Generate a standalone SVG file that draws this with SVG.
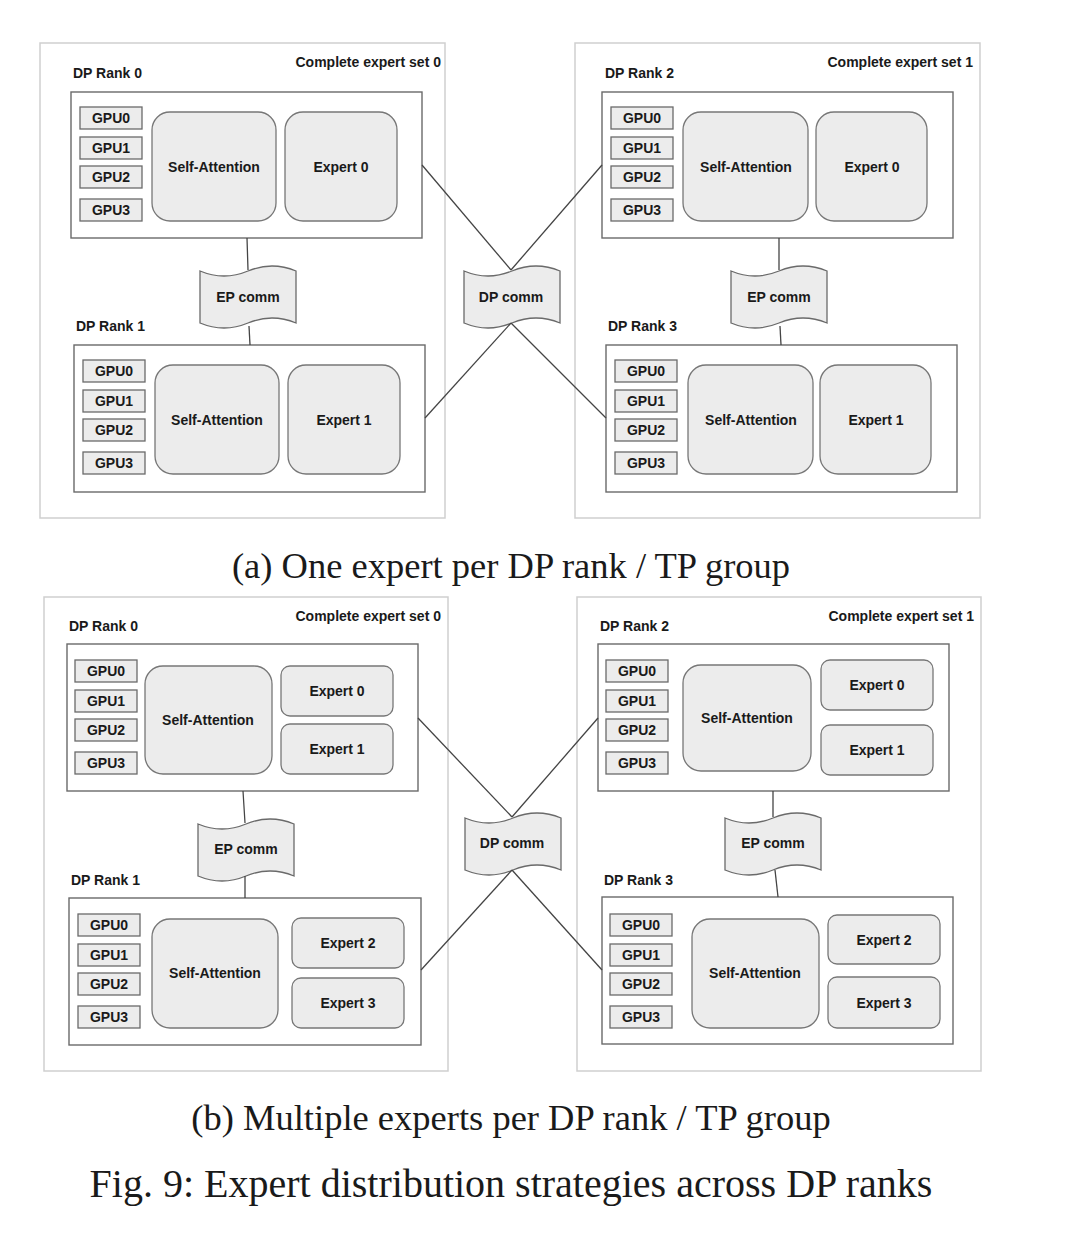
<svg xmlns="http://www.w3.org/2000/svg" xmlns:xlink="http://www.w3.org/1999/xlink" width="1080" height="1239" viewBox="0 0 1080 1239">
<style>
.panel{fill:#fff;stroke:#cfcfcf;stroke-width:1.5}
.rank{fill:#fff;stroke:#6a6a6a;stroke-width:1.4}
.gpu{fill:#ececec;stroke:#6a6a6a;stroke-width:1.3}
.blk{fill:#ececec;stroke:#777;stroke-width:1.3}
.tape{fill:#ececec;stroke:#6a6a6a;stroke-width:1.3}
.lbl{font-family:"Liberation Sans",Arial,sans-serif;font-weight:bold;font-size:14px;fill:#1a1a1a}
.c{text-anchor:middle;dominant-baseline:central}
.r{text-anchor:end}
.cap{font-family:"Liberation Serif","Times New Roman",serif;fill:#1a1a1a;text-anchor:middle}
.con line{stroke:#444;stroke-width:1.3}
</style>
<defs>
<path id="tape" d="M0 6 Q24 16 48 6 Q72 -4 96 6 L96 58 Q72 48 48 58 Q24 68 0 58 Z"/>
<g id="gpus">
<rect class="gpu" x="0" y="0" width="62" height="22"/>
<rect class="gpu" x="0" y="30" width="62" height="22"/>
<rect class="gpu" x="0" y="59" width="62" height="22"/>
<rect class="gpu" x="0" y="92" width="62" height="22"/>
<text class="lbl c" x="31" y="11">GPU0</text>
<text class="lbl c" x="31" y="41">GPU1</text>
<text class="lbl c" x="31" y="70">GPU2</text>
<text class="lbl c" x="31" y="103">GPU3</text>
</g>
</defs>
<rect width="1080" height="1239" fill="#fff"/>

<!-- Panel (a) -->
<g id="a-set0">
<rect class="panel" x="40" y="43" width="405" height="475"/>
<text class="lbl r" x="441" y="67">Complete expert set 0</text>
</g>
<g id="a-set1">
<rect class="panel" x="575" y="43" width="405" height="475"/>
<text class="lbl r" x="973" y="67">Complete expert set 1</text>
</g>

<g id="a-rank0">
<text class="lbl" x="73" y="78">DP Rank 0</text>
<rect class="rank" x="71" y="92" width="351" height="146"/>
<use xlink:href="#gpus" x="80" y="107"/>
<rect class="blk" x="152" y="112" width="124" height="109" rx="18"/>
<text class="lbl c" x="214" y="167">Self-Attention</text>
<rect class="blk" x="285" y="112" width="112" height="109" rx="18"/>
<text class="lbl c" x="341" y="167">Expert 0</text>
</g>
<g id="a-rank1">
<text class="lbl" x="76" y="331">DP Rank 1</text>
<rect class="rank" x="74" y="345" width="351" height="147"/>
<use xlink:href="#gpus" x="83" y="360"/>
<rect class="blk" x="155" y="365" width="124" height="109" rx="18"/>
<text class="lbl c" x="217" y="420">Self-Attention</text>
<rect class="blk" x="288" y="365" width="112" height="109" rx="18"/>
<text class="lbl c" x="344" y="420">Expert 1</text>
</g>
<g id="a-rank2">
<text class="lbl" x="605" y="78">DP Rank 2</text>
<rect class="rank" x="602" y="92" width="351" height="146"/>
<use xlink:href="#gpus" x="611" y="107"/>
<rect class="blk" x="683" y="112" width="125" height="109" rx="18"/>
<text class="lbl c" x="746" y="167">Self-Attention</text>
<rect class="blk" x="816" y="112" width="111" height="109" rx="18"/>
<text class="lbl c" x="872" y="167">Expert 0</text>
</g>
<g id="a-rank3">
<text class="lbl" x="608" y="331">DP Rank 3</text>
<rect class="rank" x="606" y="345" width="351" height="147"/>
<use xlink:href="#gpus" x="615" y="360"/>
<rect class="blk" x="688" y="365" width="125" height="109" rx="18"/>
<text class="lbl c" x="751" y="420">Self-Attention</text>
<rect class="blk" x="820" y="365" width="111" height="109" rx="18"/>
<text class="lbl c" x="876" y="420">Expert 1</text>
</g>

<g id="a-ep0">
<use xlink:href="#tape" class="tape" x="200" y="265"/>
<text class="lbl c" x="248" y="297">EP comm</text>
</g>
<g id="a-dp">
<use xlink:href="#tape" class="tape" x="464" y="265"/>
<text class="lbl c" x="511" y="297">DP comm</text>
</g>
<g id="a-ep1">
<use xlink:href="#tape" class="tape" x="731" y="265"/>
<text class="lbl c" x="779" y="297">EP comm</text>
</g>

<!-- Panel (b) -->
<g id="b-set0">
<rect class="panel" x="44" y="597" width="404" height="474"/>
<text class="lbl r" x="441" y="621">Complete expert set 0</text>
</g>
<g id="b-set1">
<rect class="panel" x="577" y="597" width="404" height="474"/>
<text class="lbl r" x="974" y="621">Complete expert set 1</text>
</g>

<g id="b-rank0">
<text class="lbl" x="69" y="631">DP Rank 0</text>
<rect class="rank" x="67" y="644" width="351" height="147"/>
<use xlink:href="#gpus" x="75" y="660"/>
<rect class="blk" x="145" y="666" width="127" height="108" rx="18"/>
<text class="lbl c" x="208" y="720">Self-Attention</text>
<rect class="blk" x="281" y="666" width="112" height="50" rx="9"/>
<text class="lbl c" x="337" y="691">Expert 0</text>
<rect class="blk" x="281" y="724" width="112" height="50" rx="9"/>
<text class="lbl c" x="337" y="749">Expert 1</text>
</g>
<g id="b-rank1">
<text class="lbl" x="71" y="885">DP Rank 1</text>
<rect class="rank" x="69" y="898" width="352" height="147"/>
<use xlink:href="#gpus" x="78" y="914"/>
<rect class="blk" x="152" y="919" width="126" height="109" rx="18"/>
<text class="lbl c" x="215" y="973">Self-Attention</text>
<rect class="blk" x="292" y="918" width="112" height="50" rx="9"/>
<text class="lbl c" x="348" y="943">Expert 2</text>
<rect class="blk" x="292" y="978" width="112" height="50" rx="9"/>
<text class="lbl c" x="348" y="1003">Expert 3</text>
</g>
<g id="b-rank2">
<text class="lbl" x="600" y="631">DP Rank 2</text>
<rect class="rank" x="598" y="644" width="351" height="147"/>
<use xlink:href="#gpus" x="606" y="660"/>
<rect class="blk" x="683" y="665" width="128" height="106" rx="18"/>
<text class="lbl c" x="747" y="718">Self-Attention</text>
<rect class="blk" x="821" y="660" width="112" height="50" rx="9"/>
<text class="lbl c" x="877" y="685">Expert 0</text>
<rect class="blk" x="821" y="725" width="112" height="50" rx="9"/>
<text class="lbl c" x="877" y="750">Expert 1</text>
</g>
<g id="b-rank3">
<text class="lbl" x="604" y="885">DP Rank 3</text>
<rect class="rank" x="602" y="897" width="351" height="147"/>
<use xlink:href="#gpus" x="610" y="914"/>
<rect class="blk" x="692" y="919" width="127" height="109" rx="18"/>
<text class="lbl c" x="755" y="973">Self-Attention</text>
<rect class="blk" x="828" y="915" width="112" height="49" rx="9"/>
<text class="lbl c" x="884" y="940">Expert 2</text>
<rect class="blk" x="828" y="977" width="112" height="51" rx="9"/>
<text class="lbl c" x="884" y="1003">Expert 3</text>
</g>

<g id="b-ep0">
<use xlink:href="#tape" class="tape" x="198" y="818"/>
<text class="lbl c" x="246" y="849">EP comm</text>
</g>
<g id="b-dp">
<use xlink:href="#tape" class="tape" x="465" y="812"/>
<text class="lbl c" x="512" y="843">DP comm</text>
</g>
<g id="b-ep1">
<use xlink:href="#tape" class="tape" x="725" y="812"/>
<text class="lbl c" x="773" y="843">EP comm</text>
</g>

<g id="connectors" class="con">
<line x1="247" y1="238" x2="248" y2="270"/>
<line x1="249" y1="326" x2="250" y2="345"/>
<line x1="779" y1="238" x2="779" y2="270"/>
<line x1="780" y1="326" x2="781" y2="345"/>
<line x1="422" y1="165" x2="511" y2="270"/>
<line x1="602" y1="165" x2="511" y2="270"/>
<line x1="425" y1="418" x2="511" y2="323"/>
<line x1="606" y1="418" x2="511" y2="323"/>
<line x1="243" y1="791" x2="245" y2="823"/>
<line x1="245" y1="876" x2="245" y2="898"/>
<line x1="773" y1="791" x2="773" y2="817"/>
<line x1="775" y1="870" x2="778" y2="897"/>
<line x1="418" y1="718" x2="512" y2="817"/>
<line x1="598" y1="718" x2="512" y2="817"/>
<line x1="421" y1="970" x2="512" y2="870"/>
<line x1="602" y1="970" x2="512" y2="870"/>
</g>

<g id="captions">
<text class="cap" x="511" y="578" font-size="36.5">(a) One expert per DP rank / TP group</text>
<text class="cap" x="511" y="1130" font-size="36.5">(b) Multiple experts per DP rank / TP group</text>
<text class="cap" x="511" y="1197" font-size="40">Fig. 9: Expert distribution strategies across DP ranks</text>
</g>
</svg>
